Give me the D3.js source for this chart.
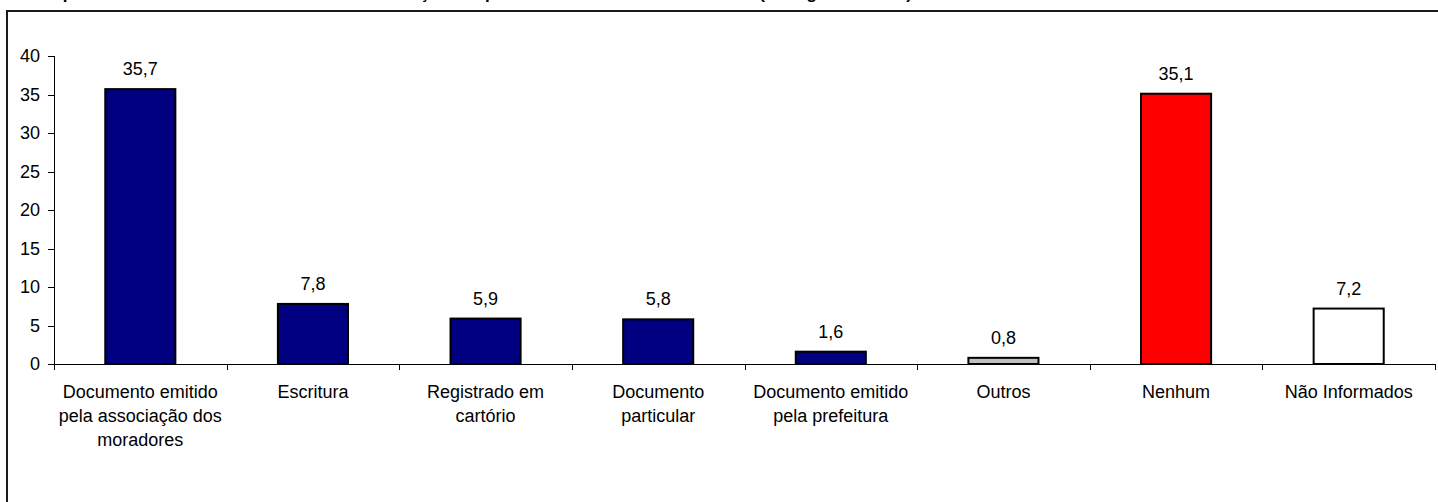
<!DOCTYPE html>
<html>
<head>
<meta charset="utf-8">
<script src="https://cdn.jsdelivr.net/npm/d3@7"></script>
<style>
  html, body { margin: 0; padding: 0; background: #fff; }
  svg { display: block; }
  text { font-family: Arial, "Liberation Sans", sans-serif; fill: #000; }
</style>
</head>
<body>
<svg id="chart" width="1438" height="502"></svg>
<script>
// ---- data ----
const categories = [
  "Documento emitido pela associação dos moradores",
  "Escritura",
  "Registrado em cartório",
  "Documento particular",
  "Documento emitido pela prefeitura",
  "Outros",
  "Nenhum",
  "Não Informados"
];
const categoryLines = [
  ["Documento emitido", "pela associação dos", "moradores"],
  ["Escritura"],
  ["Registrado em", "cartório"],
  ["Documento", "particular"],
  ["Documento emitido", "pela prefeitura"],
  ["Outros"],
  ["Nenhum"],
  ["Não Informados"]
];
const values = [35.7, 7.8, 5.9, 5.8, 1.6, 0.8, 35.1, 7.2];
const barColors = ["#000080", "#000080", "#000080", "#000080", "#000080", "#C0C0C0", "#FF0000", "#FFFFFF"];
const yTicks = [0, 5, 10, 15, 20, 25, 30, 35, 40];
const titleText = "Tipo de documento de titularidade e situação de posse do imóvel e da moradia (Categoria Geral)";

// ---- layout ----
const svg = d3.select("#chart");
const plot = { left: 54, right: 1435, top: 56, bottom: 364 };

const ptBR = d3.formatLocale({ decimal: ",", thousands: ".", grouping: [3], currency: ["R$", ""] });
const fmt = ptBR.format(".1f");

const x = d3.scaleBand()
  .domain(categories)
  .range([plot.left, plot.right])
  .paddingInner(0.594)
  .paddingOuter(0.297);

const xEdges = d3.scaleLinear().domain([0, categories.length]).range([plot.left, plot.right]);

const y = d3.scaleLinear().domain([0, 40]).range([plot.bottom, plot.top]);

// outer frame (cropped at right / bottom like the reference)
svg.append("rect")
  .attr("x", 7).attr("y", 11)
  .attr("width", 1500).attr("height", 600)
  .attr("fill", "none")
  .attr("stroke", "#1a1a1a")
  .attr("stroke-width", 2);

// title (cropped at the top edge in the reference: only descenders remain visible)
svg.append("text")
  .attr("x", 46).attr("y", -1)
  .attr("font-size", 17)
  .attr("font-weight", "bold")
  .attr("textLength", 866)
  .attr("lengthAdjust", "spacing")
  .text(titleText);

// y axis
const yAxis = svg.append("g")
  .attr("transform", `translate(${plot.left},0)`)
  .call(d3.axisLeft(y).tickValues(yTicks).tickSize(6).tickPadding(8).tickFormat(d3.format("d")));
yAxis.selectAll("text").attr("font-size", 18).style("font-family", "Arial, 'Liberation Sans', sans-serif");
yAxis.selectAll("line, path").attr("stroke", "#000").attr("shape-rendering", "crispEdges");

// bars
svg.append("g").selectAll("rect")
  .data(values)
  .join("rect")
  .attr("x", (d, i) => x(categories[i]))
  .attr("y", d => y(d))
  .attr("width", x.bandwidth())
  .attr("height", d => y(0) - y(d))
  .attr("fill", (d, i) => barColors[i])
  .attr("stroke", "#000")
  .attr("stroke-width", 2);

// x axis with category boundary ticks
const xAxis = svg.append("g")
  .attr("transform", `translate(0,${plot.bottom})`)
  .call(d3.axisBottom(xEdges).tickValues(d3.range(categories.length + 1)).tickSize(6).tickFormat(""));
xAxis.selectAll("line, path").attr("stroke", "#000").attr("shape-rendering", "crispEdges");

// value labels
svg.append("g").selectAll("text")
  .data(values)
  .join("text")
  .attr("x", (d, i) => x(categories[i]) + x.bandwidth() / 2)
  .attr("y", d => y(d) - 14)
  .attr("text-anchor", "middle")
  .attr("font-size", 18)
  .text(d => fmt(d));

// category labels
const catG = svg.append("g").selectAll("text")
  .data(categories)
  .join("text")
  .attr("x", d => x(d) + x.bandwidth() / 2)
  .attr("y", 398)
  .attr("text-anchor", "middle")
  .attr("font-size", 18);
catG.each(function(d, i) {
  d3.select(this).selectAll("tspan")
    .data(categoryLines[i])
    .join("tspan")
    .attr("x", x(d) + x.bandwidth() / 2)
    .attr("dy", (t, j) => j === 0 ? 0 : 24)
    .text(t => t);
});
</script>
</body>
</html>
